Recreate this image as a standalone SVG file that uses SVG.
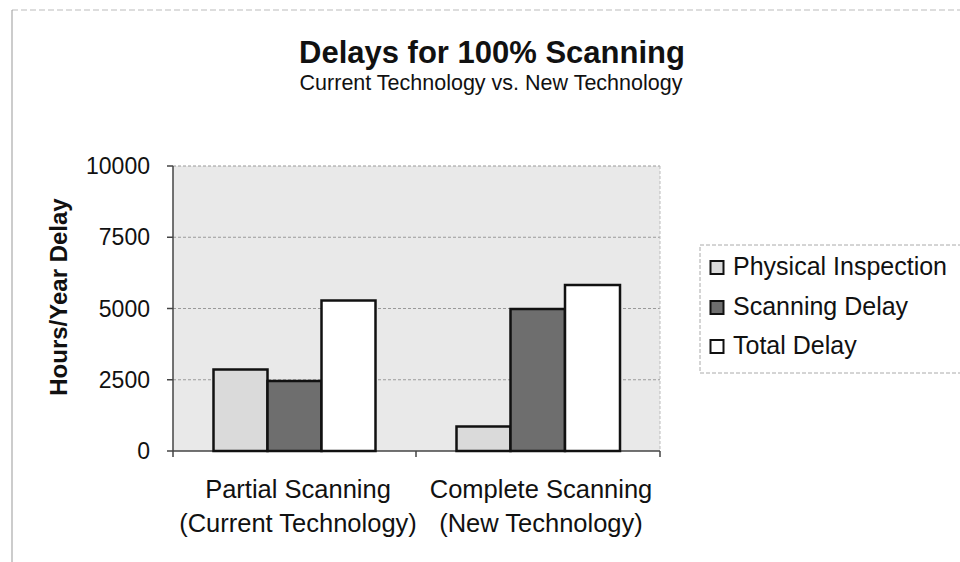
<svg xmlns="http://www.w3.org/2000/svg" width="960" height="562" viewBox="0 0 960 562">
<style>
text{font-family:"Liberation Sans",Arial,sans-serif;fill:#111}
.title{font-size:31px;font-weight:bold}
.sub{font-size:21.5px}
.ytick{font-size:23px;text-anchor:end}
.cat{font-size:25.5px;text-anchor:middle}
.leg{font-size:25px}
.axt{font-size:24px;font-weight:bold}
.grid{stroke:#9a9a9a;stroke-width:1;stroke-dasharray:3 2}
.bar{stroke:#111;stroke-width:2.5}
.s1{fill:#dadada}
.s2{fill:#6e6e6e}
.s3{fill:#ffffff}
.axis{stroke:#444;stroke-width:1.5;fill:none}
</style>
<rect width="960" height="562" fill="#ffffff"/>
<g id="chart-border">
<line x1="12" y1="10" x2="960" y2="10" stroke="#bbbbbb" stroke-width="1" stroke-dasharray="6 3"/>
<line x1="12" y1="10" x2="12" y2="562" stroke="#999999" stroke-width="1"/>
</g>
<g id="title">
<text class="title" x="492" y="63" text-anchor="middle">Delays for 100% Scanning</text>
<text class="sub" x="491" y="90" text-anchor="middle">Current Technology vs. New Technology</text>
</g>
<g id="plot-area">
<rect x="173" y="166" width="487" height="285" fill="#e9e9e9"/>
<line class="grid" x1="173" y1="166" x2="660" y2="166"/>
<line class="grid" x1="173" y1="237.25" x2="660" y2="237.25"/>
<line class="grid" x1="173" y1="308.5" x2="660" y2="308.5"/>
<line class="grid" x1="173" y1="379.75" x2="660" y2="379.75"/>
<line x1="660" y1="166" x2="660" y2="451" stroke="#bbbbbb" stroke-width="1" stroke-dasharray="3 2"/>
</g>
<g id="y-axis">
<line class="axis" x1="173" y1="166" x2="173" y2="451" stroke="#777"/>
<line class="axis" x1="167" y1="166" x2="173" y2="166"/>
<line class="axis" x1="167" y1="237.25" x2="173" y2="237.25"/>
<line class="axis" x1="167" y1="308.5" x2="173" y2="308.5"/>
<line class="axis" x1="167" y1="379.75" x2="173" y2="379.75"/>
<line class="axis" x1="167" y1="451" x2="173" y2="451"/>
<text class="ytick" x="150" y="174">10000</text>
<text class="ytick" x="150" y="245">7500</text>
<text class="ytick" x="150" y="316.5">5000</text>
<text class="ytick" x="150" y="388">2500</text>
<text class="ytick" x="150" y="459">0</text>
<text class="axt" transform="translate(67,297) rotate(-90)" text-anchor="middle">Hours/Year Delay</text>
</g>
<g id="x-axis">
<line class="axis" x1="173" y1="451" x2="660" y2="451" stroke="#222"/>
<line class="axis" x1="173" y1="451" x2="173" y2="457"/>
<line class="axis" x1="416" y1="451" x2="416" y2="457"/>
<line class="axis" x1="660" y1="451" x2="660" y2="457"/>
<text class="cat" x="298" y="498">Partial Scanning</text>
<text class="cat" x="298" y="532">(Current Technology)</text>
<text class="cat" x="541" y="498">Complete Scanning</text>
<text class="cat" x="541" y="532">(New Technology)</text>
</g>
<g id="bars-partial">
<rect class="bar s1" x="213.5" y="369.5" width="54" height="81.5"/>
<rect class="bar s2" x="267.5" y="381" width="54" height="70"/>
<rect class="bar s3" x="321.5" y="300.5" width="54" height="150.5"/>
</g>
<g id="bars-complete">
<rect class="bar s1" x="456.5" y="426.5" width="54" height="24.5"/>
<rect class="bar s2" x="510.5" y="309" width="54.5" height="142"/>
<rect class="bar s3" x="565" y="285" width="55" height="166"/>
</g>
<g id="legend">
<rect x="700" y="245" width="262" height="128" fill="#ffffff" stroke="#aaaaaa" stroke-width="1" stroke-dasharray="4 2"/>
<rect class="s1" x="710.5" y="261" width="13" height="13" stroke="#111" stroke-width="2"/>
<text class="leg" x="733" y="275">Physical Inspection</text>
<rect class="s2" x="710.5" y="301" width="13" height="13" stroke="#111" stroke-width="2"/>
<text class="leg" x="733" y="315">Scanning Delay</text>
<rect class="s3" x="710.5" y="340" width="13" height="13" stroke="#111" stroke-width="2"/>
<text class="leg" x="733" y="354">Total Delay</text>
</g>
</svg>
